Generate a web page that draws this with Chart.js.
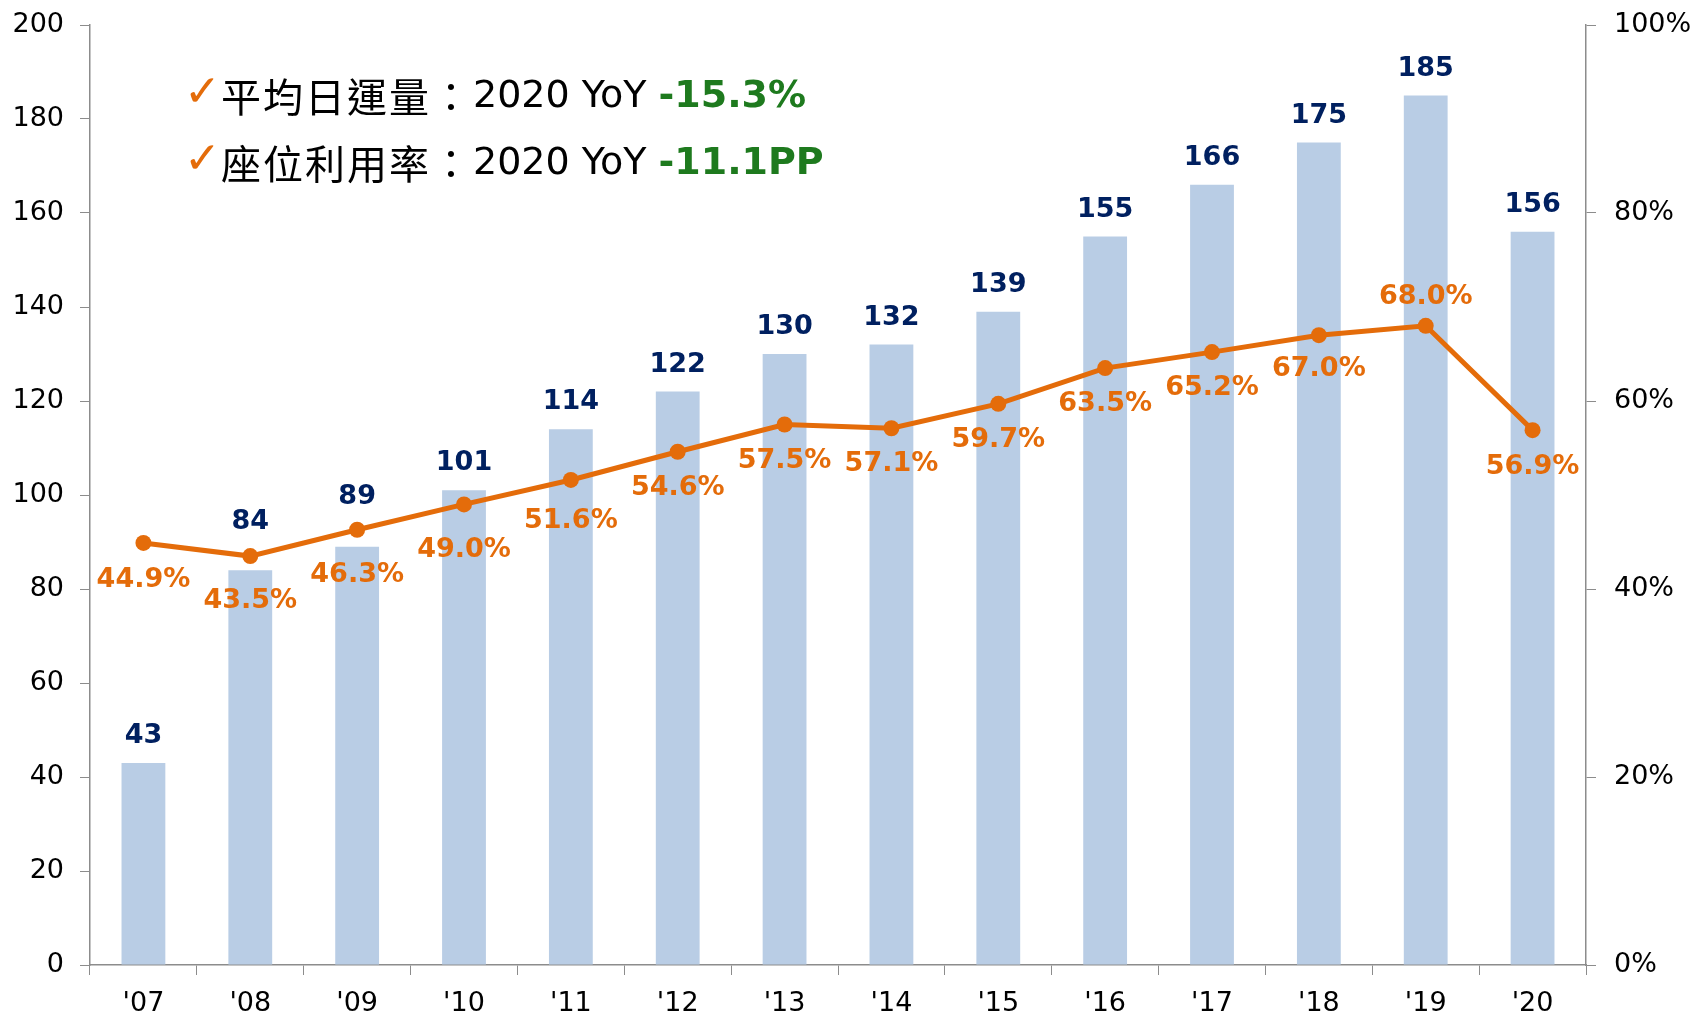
<!DOCTYPE html>
<html>
<head>
<meta charset="utf-8">
<script src="https://cdn.jsdelivr.net/npm/chart.js@4"></script>
<style>
  html, body { margin: 0; padding: 0; background: #fff; overflow: hidden; }
  #wrap { position: relative; width: 1694px; height: 1015px; }
</style>
</head>
<body>
<div id="wrap"><canvas id="chart"></canvas></div>
<script>
// 연도 / 평균 일 운송량(천명) / 좌석 이용률(%)
const years = ["'07", "'08", "'09", "'10", "'11", "'12", "'13", "'14", "'15", "'16", "'17", "'18", "'19", "'20"];
const dailyRidership = [43, 84, 89, 101, 114, 122, 130, 132, 139, 155, 166, 175, 185, 156];
const seatUtilization = [44.9, 43.5, 46.3, 49.0, 51.6, 54.6, 57.5, 57.1, 59.7, 63.5, 65.2, 67.0, 68.0, 56.9];

// 라벨 위치 보정 (픽셀)
const barLabelOffsets = [27, 48, 50, 27, 27, 27, 27, 27, 27, 27, 27, 27, 27, 27];
const pctLabelOffsets = [37, 45, 45, 46, 41, 36, 36, 36, 36, 36, 36, 34, -29, 37];

const headline = [
    { cjk: "平均日運量：", latin: "2020 YoY ", bold: "-15.3%" },
    { cjk: "座位利用率：", latin: "2020 YoY ", bold: "-11.1PP" }
];

const ORANGE = '#E46C0A';
const NAVY = '#002060';
const GREEN = '#1E7A1E';
const AXIS = '#8c8c8c';
const FONT = '"DejaVu Sans", Verdana, sans-serif';

// 막대/선 위 값 표시
const valueLabels = {
    id: 'valueLabels',
    afterDatasetsDraw(chart) {
        const ctx = chart.ctx;
        ctx.save();
        ctx.font = 'bold 27px ' + FONT;
        ctx.textAlign = 'center';
        ctx.textBaseline = 'middle';

        const bars = chart.getDatasetMeta(0).data;
        ctx.fillStyle = NAVY;
        bars.forEach((b, i) => {
            ctx.fillText(String(dailyRidership[i]), b.x, b.y - barLabelOffsets[i]);
        });

        const pts = chart.getDatasetMeta(1).data;
        ctx.fillStyle = ORANGE;
        pts.forEach((p, i) => {
            ctx.fillText(seatUtilization[i].toFixed(1) + '%', p.x, p.y + pctLabelOffsets[i]);
        });
        ctx.restore();
    }
};

// 상단 요약 문구
const headlinePlugin = {
    id: 'headline',
    afterDraw(chart) {
        const ctx = chart.ctx;
        ctx.save();
        ctx.textBaseline = 'middle';
        const rows = [97, 164];
        headline.forEach((h, i) => {
            const y = rows[i];
            ctx.fillStyle = ORANGE;
            ctx.font = 'bold 44px ' + FONT;
            ctx.fillText('\u2713', 184, y - 2);

            let x = 221;
            ctx.fillStyle = '#000';
            ctx.font = '40px "Noto Sans CJK TC", sans-serif';
            ctx.letterSpacing = '2px';
            ctx.fillText(h.cjk, x, y);
            x += ctx.measureText(h.cjk).width;
            ctx.letterSpacing = '0px';

            ctx.font = '38px ' + FONT;
            ctx.fillText(h.latin, x, y);
            x += ctx.measureText(h.latin).width;

            ctx.fillStyle = GREEN;
            ctx.font = 'bold 38px ' + FONT;
            ctx.fillText(h.bold, x, y);
        });
        ctx.restore();
    }
};

// 세로축 폭 고정 + 라벨 여백 제거
function fixVertical(width) {
    return s => { s.width = width; s.paddingTop = 0; s.paddingBottom = 0; };
}

function initChart() {
    const ctx = document.getElementById('chart').getContext('2d');

    new Chart(ctx, {
        data: {
            labels: years,
            datasets: [
                {
                    type: 'bar',
                    label: '平均日運量',
                    data: dailyRidership,
                    backgroundColor: '#B9CDE5',
                    barPercentage: 0.41,
                    categoryPercentage: 1,
                    yAxisID: 'y',
                    order: 2
                },
                {
                    type: 'line',
                    label: '座位利用率',
                    data: seatUtilization,
                    borderColor: ORANGE,
                    backgroundColor: ORANGE,
                    borderWidth: 5,
                    pointRadius: 8,
                    pointBackgroundColor: ORANGE,
                    pointBorderWidth: 0,
                    tension: 0,
                    yAxisID: 'y1',
                    order: 1
                }
            ]
        },
        options: {
            responsive: true,
            maintainAspectRatio: false,
            devicePixelRatio: 1,
            animation: false,
            layout: { padding: { top: 25, left: 0, right: 0, bottom: 0 } },
            plugins: {
                legend: { display: false },
                tooltip: { enabled: false }
            },
            scales: {
                x: {
                    offset: true,
                    grid: { offset: true, drawOnChartArea: false, tickLength: 10, color: AXIS },
                    border: { color: AXIS, width: 1.5 },
                    ticks: { color: '#000', font: { family: FONT, size: 27 }, padding: 13, maxRotation: 0 },
                    afterFit(s) { s.height = 50; s.paddingLeft = 0; s.paddingRight = 0; }
                },
                y: {
                    position: 'left',
                    min: 0, max: 200,
                    ticks: { stepSize: 20, color: '#000', font: { family: FONT, size: 27 }, padding: 16 },
                    grid: { drawOnChartArea: false, tickLength: 10, color: AXIS },
                    border: { color: AXIS, width: 1.5 },
                    afterFit: fixVertical(90)
                },
                y1: {
                    position: 'right',
                    min: 0, max: 100,
                    ticks: { stepSize: 20, color: '#000', font: { family: FONT, size: 27 }, padding: 18,
                             callback: v => v + '%' },
                    grid: { drawOnChartArea: false, tickLength: 10, color: AXIS },
                    border: { color: AXIS, width: 1.5 },
                    afterFit: fixVertical(108)
                }
            }
        },
        plugins: [valueLabels, headlinePlugin]
    });
}

window.onload = initChart;
</script>
</body>
</html>
